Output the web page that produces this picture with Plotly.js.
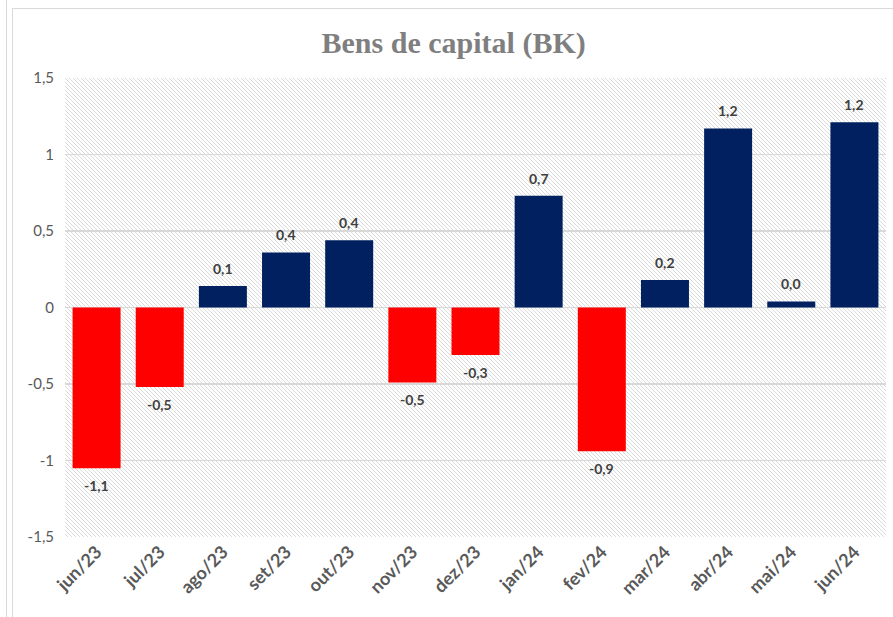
<!DOCTYPE html>
<html>
<head>
<meta charset="utf-8">
<script src="https://cdn.plot.ly/plotly-3.0.1.min.js"></script>
<style>
  html, body { margin: 0; padding: 0; background: #fff; }
  #wrap { position: relative; width: 893px; height: 617px; overflow: hidden; }
  #frame1 { position: absolute; left: 6px; top: -2px; width: 900px; height: 630px; border-left: 1.5px solid #d9d9d9; }
  #frame2 { position: absolute; left: 12px; top: 8px; width: 900px; height: 630px; border-left: 1.5px solid #d9d9d9; border-top: 1.5px solid #d9d9d9; }
  #chart { position: absolute; left: 0; top: 0; width: 893px; height: 617px; }
</style>
</head>
<body>
<div id="wrap">
  <div id="frame1"></div>
  <div id="frame2"></div>
  <div id="chart"></div>
</div>
<script>
const categories = ["jun/23","jul/23","ago/23","set/23","out/23","nov/23","dez/23","jan/24","fev/24","mar/24","abr/24","mai/24","jun/24"];
const values = [-1.05, -0.52, 0.14, 0.36, 0.44, -0.49, -0.31, 0.73, -0.94, 0.18, 1.17, 0.04, 1.21];
const valueLabels = ["-1,1","-0,5","0,1","0,4","0,4","-0,5","-0,3","0,7","-0,9","0,2","1,2","0,0","1,2"];
const yTickVals = [-1.5, -1, -0.5, 0, 0.5, 1, 1.5];
const yTickText = ["-1,5","-1","-0,5","0","0,5","1","1,5"];

const POS = "#002060", NEG = "#FF0000";
const colors = values.map(v => v >= 0 ? POS : NEG);

// hatched background pattern for the plot area
const hatchSvg = '<svg xmlns="http://www.w3.org/2000/svg" width="821" height="459">' +
  '<defs><pattern id="h" width="4" height="4" patternUnits="userSpaceOnUse">' +
  '<path d="M-1,-1 L5,5 M-1,3 L1,5 M3,-1 L5,1" stroke="#dadada" stroke-width="1"/></pattern></defs>' +
  '<rect width="821" height="459" fill="#ffffff"/><rect width="821" height="459" fill="url(#h)"/></svg>';
const hatchUri = 'data:image/svg+xml;charset=utf-8,' + encodeURIComponent(hatchSvg);

const trace = {
  type: "bar",
  x: categories,
  y: values,
  marker: { color: colors, line: { width: 0 } },
  hoverinfo: "x+y",
  cliponaxis: false
};

const annotations = categories.map((c, i) => ({
  x: c, y: values[i], xref: "x", yref: "y",
  text: valueLabels[i],
  showarrow: false,
  yanchor: values[i] >= 0 ? "bottom" : "top",
  yshift: values[i] >= 0 ? 7 : -7,
  font: { family: "Lato, 'Open Sans', sans-serif", size: 14, color: "#404040", weight: "bold" }
}));

const layout = {
  width: 893, height: 617,
  margin: { l: 65, r: 7, t: 78, b: 80 },
  paper_bgcolor: "rgba(0,0,0,0)",
  plot_bgcolor: "#ffffff",
  separators: ",.",
  bargap: 0.24,
  showlegend: false,
  title: {
    text: "<b>Bens de capital (BK)</b>",
    font: { family: "'Liberation Serif', 'DejaVu Serif', serif", size: 30, color: "#7f7f7f" },
    x: 0.508, xref: "container", xanchor: "center",
    y: 1 - 42 / 617, yref: "container", yanchor: "middle"
  },
  xaxis: {
    type: "category",
    tickangle: -45,
    tickfont: { family: "Lato, 'Open Sans', sans-serif", size: 18, color: "#595959", weight: "bold" },
    showgrid: false,
    showline: false,
    ticks: "",
    zeroline: false
  },
  yaxis: {
    range: [-1.5, 1.5],
    tickvals: yTickVals,
    ticktext: yTickText,
    tickfont: { family: "Lato, 'Open Sans', sans-serif", size: 15, color: "#595959" },
    showgrid: true,
    gridcolor: "#d9d9d9",
    gridwidth: 1.5,
    zeroline: true,
    zerolinecolor: "#d9d9d9",
    zerolinewidth: 1.5,
    showline: false,
    ticks: "",
    ticklabelstandoff: 10
  },
  images: [{
    source: hatchUri,
    xref: "paper", yref: "paper",
    x: 0, y: 1, sizex: 1, sizey: 1,
    xanchor: "left", yanchor: "top",
    sizing: "stretch", layer: "below"
  }],
  annotations: annotations
};

Plotly.newPlot("chart", [trace], layout, { displayModeBar: false, staticPlot: true });
</script>
</body>
</html>
